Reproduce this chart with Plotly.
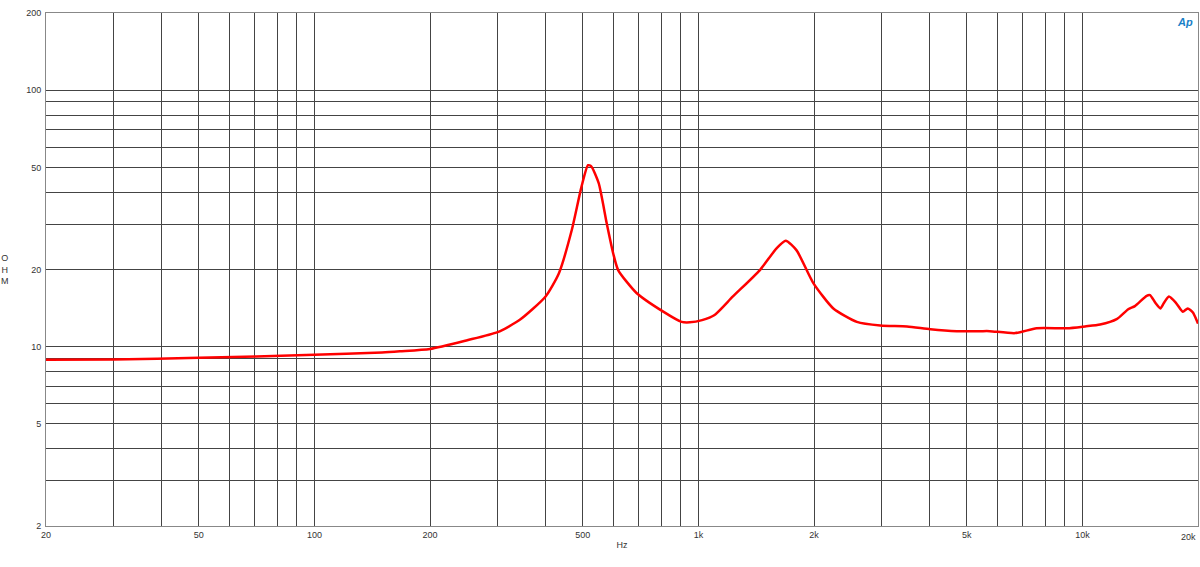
import plotly.graph_objects as go

freq_hz = [20, 30, 50, 100, 150, 167, 200, 250, 300, 342, 400, 433, 468, 496, 516, 526,
           550, 577, 600, 618, 690, 810, 904, 950, 1022, 1102, 1230, 1446, 1598, 1688,
           1800, 1992, 2246, 2586, 2976, 3494, 4020, 4710, 5420, 5740, 6680, 7600, 9120,
           10160, 11120, 12280, 13160, 13700, 14700, 15000, 15500, 15960, 16300, 16800,
           17540, 18260, 18800, 19400, 20000]
impedance_ohm = [8.9, 8.92, 9.05, 9.3, 9.5, 9.6, 9.8, 10.6, 11.4, 12.7, 15.7, 19.3, 28.5, 42,
                 51, 50.5, 43.4, 30.3, 23.1, 19.9, 16.2, 13.7, 12.5, 12.45, 12.7, 13.3, 15.7,
                 19.9, 24.2, 25.9, 23.8, 17.7, 14.1, 12.5, 12.1, 12.0, 11.7, 11.5, 11.5, 11.5,
                 11.3, 11.8, 11.8, 12.0, 12.2, 12.8, 14.0, 14.4, 15.8, 15.9, 14.8, 14.1, 14.8,
                 15.7, 14.8, 13.7, 14.1, 13.6, 12.3]

x_grid = [20, 30, 40, 50, 60, 70, 80, 90, 100, 200, 300, 400, 500, 600, 700, 800, 900,
          1000, 2000, 3000, 4000, 5000, 6000, 7000, 8000, 9000, 10000, 20000]
x_labels = {20: "20", 50: "50", 100: "100", 200: "200", 500: "500", 1000: "1k",
            2000: "2k", 5000: "5k", 10000: "10k"}
y_grid = [2, 3, 4, 5, 6, 7, 8, 9, 10, 20, 30, 40, 50, 60, 70, 80, 90, 100, 200]
y_labels = {2: "2", 5: "5", 10: "10", 20: "20", 50: "50", 100: "100", 200: "200"}

fig = go.Figure()
fig.add_trace(go.Scatter(x=freq_hz, y=impedance_ohm, mode="lines",
                         line=dict(color="#ff0000", width=2.5, shape="spline", smoothing=0.6),
                         showlegend=False, hoverinfo="skip"))

font = dict(family="Arial, Liberation Sans", size=9, color="#333333")
fig.update_xaxes(type="log", range=[1.30103, 4.30103], automargin=False,
                 tickvals=x_grid, ticktext=[x_labels.get(v, "") for v in x_grid],
                 showgrid=True, gridcolor="#444444", gridwidth=1,
                 showline=True, linecolor="#888888", linewidth=1, mirror=True,
                 ticks="", tickfont=font, zeroline=False,
                 title=dict(text="Hz", font=font, standoff=2))
fig.update_yaxes(type="log", range=[0.30103, 2.30103], automargin=False,
                 tickvals=y_grid, ticktext=[y_labels.get(v, "") for v in y_grid],
                 showgrid=True, gridcolor="#444444", gridwidth=1,
                 showline=True, linecolor="#888888", linewidth=1, mirror=True,
                 ticks="", tickfont=font, zeroline=False, ticklabelstandoff=2)

fig.add_annotation(text="20k", xref="paper", yref="paper", x=1.0, y=0, yshift=-4,
                   xanchor="right", yanchor="top", showarrow=False, font=font)
fig.add_annotation(text="O<br>H<br>M", xref="paper", yref="paper", x=-0.036, y=0.5,
                   xanchor="center", yanchor="middle", showarrow=False,
                   font=dict(family="Arial, Liberation Sans", size=9, color="#333333"))
fig.add_annotation(text="<i><b>Ap</b></i>", xref="paper", yref="paper", x=0.989, y=0.982,
                   xanchor="center", yanchor="middle", showarrow=False,
                   font=dict(family="Arial, Liberation Sans", size=11, color="#1a7fc8"))

fig.update_layout(width=1200, height=567, paper_bgcolor="white", plot_bgcolor="white",
                  margin=dict(l=46, r=2, t=13, b=41))

post = ("document.body.style.margin='0';document.body.style.overflow='hidden';"
        "Plotly.relayout(document.getElementById('{plot_id}'), {width:1200, height:567});")
fig.write_html("out.html", config={"responsive": False, "displayModeBar": False},
               post_script=post)
